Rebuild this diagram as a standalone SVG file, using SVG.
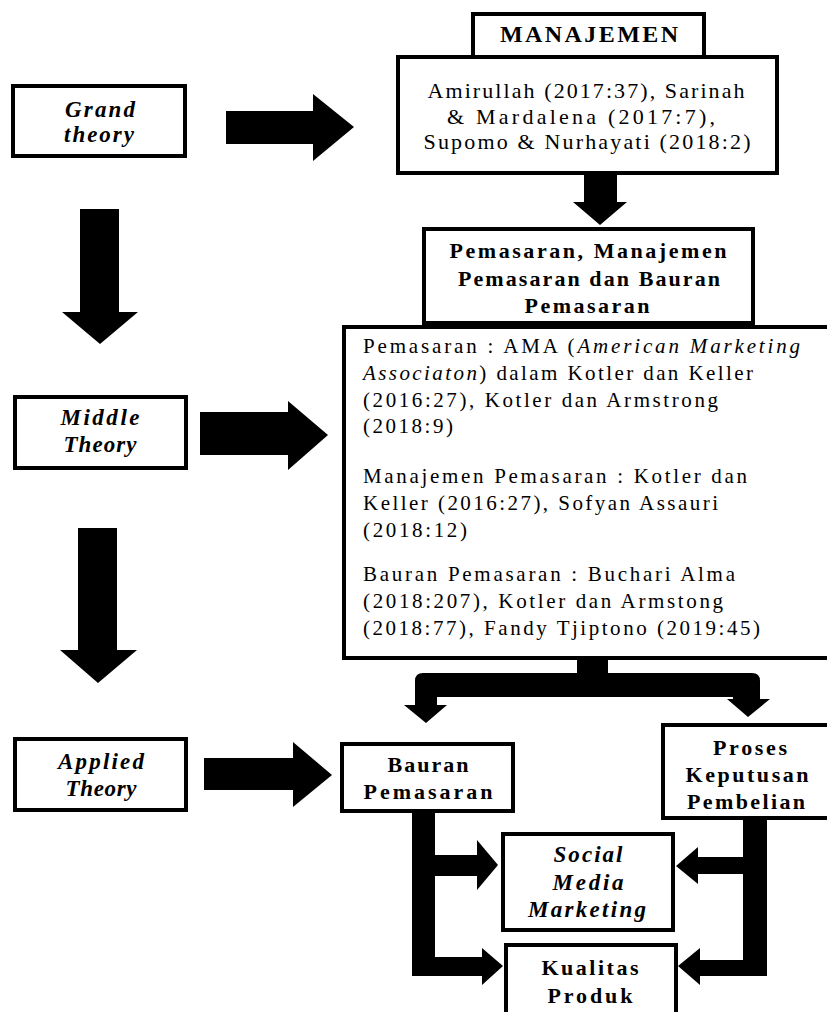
<svg xmlns="http://www.w3.org/2000/svg" width="827" height="1012" viewBox="0 0 827 1012">
<style>
.box{fill:#fff;stroke:#000;stroke-width:4}
.arr{fill:#000;stroke:none}
text{font-family:"Liberation Serif","Times New Roman",serif;fill:#000}
.bi{font-weight:bold;font-style:italic;font-size:23px;text-anchor:middle}
.b{font-weight:bold;font-size:22px;text-anchor:middle}
.r{font-size:22px;text-anchor:middle}
.l{font-size:21px}
.i{font-style:italic}
</style>
<rect width="827" height="1012" fill="#fff"/>
<g id="connectors">
<polygon class="arr" points="226,111 313,111 313,94 354,127 313,161 313,144 226,144"/>
<polygon class="arr" points="584,175 617,175 617,202 627,202 600,225 573,202 584,202"/>
<polygon class="arr" points="80,209 119,209 119,312 138,312 100,344 62,312 80,312"/>
<polygon class="arr" points="200,412 288,412 288,401 328,435 288,470 288,455 200,455"/>
<polygon class="arr" points="78,528 117,528 117,650 137,650 98,683 60,650 78,650"/>
<polygon class="arr" points="204,758 293,758 293,742 332,775 293,807 293,790 204,790"/>
<path class="arr" d="M577,658 L608,658 L608,673 L752,673 Q760,673 760,681 L760,699 L770,699 L748,717 L727,699 L733,699 L733,697 L437,697 L437,705 L447,705 L426,723 L404,705 L415,705 L415,681 Q415,673 423,673 L577,673 Z"/>
<path class="arr" d="M412,811 L435,811 L435,855 L477,855 L477,840 L498,865 L477,890 L477,876 L435,876 L435,957 L482,957 L482,948 L503,966 L482,985 L482,976 L412,976 Z"/>
<path class="arr" d="M743,818 L767,818 L767,976 L700,976 L700,985 L678,966 L700,948 L700,960 L743,960 L743,874 L698,874 L698,884 L676,866 L698,847 L698,857 L743,857 Z"/>
</g>
<g id="grand">
<rect class="box" x="13" y="86" width="172" height="70"/>
<text class="bi" x="100" y="117" textLength="70">Grand</text>
<text class="bi" x="99" y="142" textLength="70">theory</text>
</g>
<g id="middle">
<rect class="box" x="15" y="397" width="171" height="71"/>
<text class="bi" x="100" y="425" textLength="79">Middle</text>
<text class="bi" x="100" y="452" textLength="73">Theory</text>
</g>
<g id="applied">
<rect class="box" x="15" y="739" width="171" height="71"/>
<text class="bi" x="101" y="769" textLength="86">Applied</text>
<text class="bi" x="101" y="796" textLength="71">Theory</text>
</g>
<g id="manajemen">
<rect class="box" x="473" y="14" width="231" height="44"/>
<text class="b" x="589" y="42" textLength="178" style="font-size:24px">MANAJEMEN</text>
</g>
<g id="manajemen-ref">
<rect class="box" x="398" y="57" width="379" height="116"/>
<text class="r" x="586" y="98" textLength="317">Amirullah (2017:37), Sarinah</text>
<text class="r" x="581" y="124" textLength="268">&amp; Mardalena (2017:7),</text>
<text class="r" x="587" y="149" textLength="327">Supomo &amp; Nurhayati (2018:2)</text>
</g>
<g id="pemasaran">
<rect class="box" x="424" y="229" width="329" height="94"/>
<text class="b" x="588" y="258" textLength="277">Pemasaran, Manajemen</text>
<text class="b" x="589" y="286" textLength="262">Pemasaran dan Bauran</text>
<text class="b" x="587" y="313" textLength="125">Pemasaran</text>
</g>
<g id="pemasaran-ref">
<rect class="box" x="344" y="327" width="490" height="331"/>
<text class="l" x="363" y="353" textLength="437">Pemasaran : AMA (<tspan class="i">American Marketing</tspan></text>
<text class="l" x="363" y="380" textLength="390"><tspan class="i">Associaton</tspan>) dalam Kotler dan Keller</text>
<text class="l" x="363" y="407" textLength="355">(2016:27), Kotler dan Armstrong</text>
<text class="l" x="363" y="433" textLength="90">(2018:9)</text>
<text class="l" x="363" y="483" textLength="384">Manajemen Pemasaran : Kotler dan</text>
<text class="l" x="363" y="510" textLength="355">Keller (2016:27), Sofyan Assauri</text>
<text class="l" x="363" y="537" textLength="104">(2018:12)</text>
<text class="l" x="363" y="581" textLength="372">Bauran Pemasaran : Buchari Alma</text>
<text class="l" x="363" y="608" textLength="360">(2018:207), Kotler dan Armstong</text>
<text class="l" x="363" y="635" textLength="397">(2018:77), Fandy Tjiptono (2019:45)</text>
</g>
<g id="bauran">
<rect class="box" x="342" y="744" width="171" height="67"/>
<text class="b" x="428" y="772" textLength="81">Bauran</text>
<text class="b" x="428" y="799" textLength="129">Pemasaran</text>
</g>
<g id="proses">
<rect class="box" x="663" y="725" width="170" height="93"/>
<text class="b" x="750" y="755" textLength="74">Proses</text>
<text class="b" x="747" y="782" textLength="123">Keputusan</text>
<text class="b" x="746" y="809" textLength="118">Pembelian</text>
</g>
<g id="social">
<rect class="box" x="503" y="834" width="170" height="96"/>
<text class="bi" x="588" y="862" textLength="69">Social</text>
<text class="bi" x="588" y="890" textLength="71">Media</text>
<text class="bi" x="587" y="917" textLength="118">Marketing</text>
</g>
<g id="kualitas">
<rect class="box" x="506" y="945" width="170" height="72"/>
<text class="b" x="590" y="975" textLength="97">Kualitas</text>
<text class="b" x="590" y="1003" textLength="85">Produk</text>
</g>
</svg>
